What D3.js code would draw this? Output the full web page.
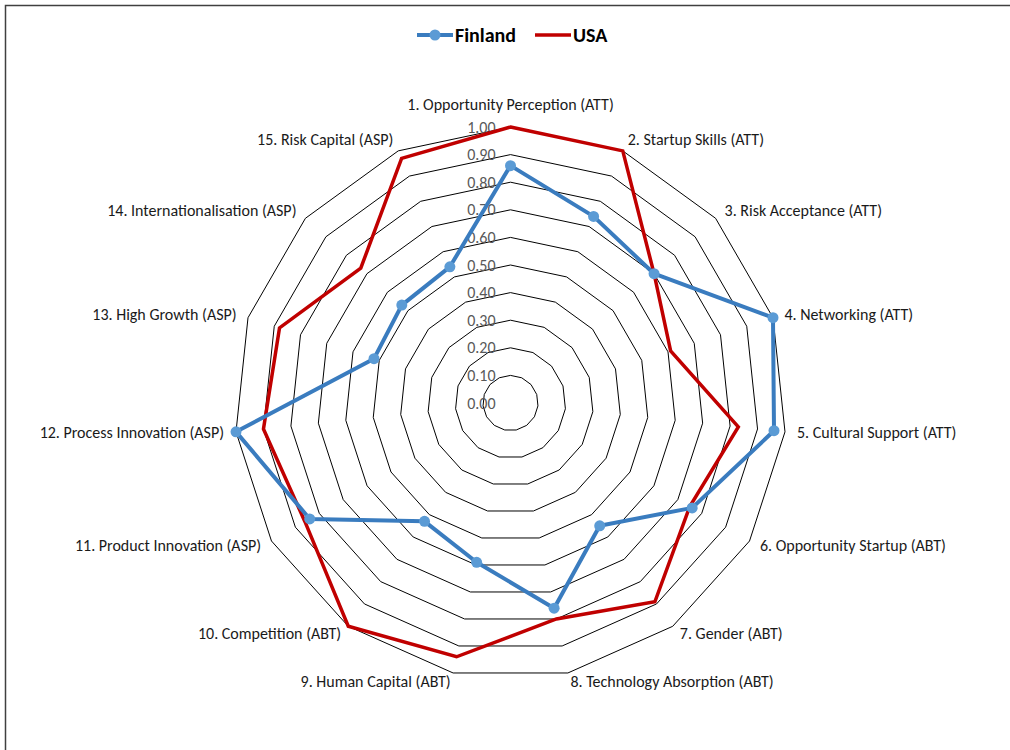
<!DOCTYPE html>
<html>
<head>
<meta charset="utf-8">
<script src="https://cdn.jsdelivr.net/npm/d3@7/dist/d3.min.js"></script>
<style>
  html, body { margin: 0; padding: 0; background: #fff; }
  svg { display: block; }
  text { font-family: Carlito, Calibri, Lato, "Open Sans", sans-serif; }
</style>
</head>
<body>
<svg id="chart" width="1010" height="750"></svg>
<script>
// Entrepreneurship index pillars, Finland vs USA (normalised 0–1)
const categories = [
  "1. Opportunity Perception (ATT)",
  "2. Startup Skills (ATT)",
  "3. Risk Acceptance (ATT)",
  "4. Networking (ATT)",
  "5. Cultural Support (ATT)",
  "6. Opportunity Startup (ABT)",
  "7. Gender (ABT)",
  "8. Technology Absorption (ABT)",
  "9. Human Capital (ABT)",
  "10. Competition (ABT)",
  "11. Product Innovation (ASP)",
  "12. Process Innovation (ASP)",
  "13. High Growth (ASP)",
  "14. Internationalisation (ASP)",
  "15. Risk Capital (ASP)"
];
const finland = [0.86, 0.74, 0.70, 1.00, 0.96, 0.76, 0.55, 0.76, 0.59, 0.53, 0.84, 1.00, 0.52, 0.53, 0.54];
const usa     = [1.00, 1.00, 0.70, 0.61, 0.83, 0.75, 0.89, 0.80, 0.94, 1.00, 0.86, 0.90, 0.88, 0.73, 0.97];
const tickValues = [0, 0.1, 0.2, 0.3, 0.4, 0.5, 0.6, 0.7, 0.8, 0.9, 1.0];
const seriesNames = ["Finland", "USA"];

const svg = d3.select("#chart");
const cx = 510.5, cy = 403, R = 276;
const n = categories.length;

const r = d3.scaleLinear().domain([0, 1]).range([0, R]);
const angle = d3.scaleLinear().domain([0, n]).range([0, 2 * Math.PI]);
const fmt = d3.format(".2f");

// outer frame (left and top edges)
svg.append("path")
  .attr("d", "M5.5,750 L5.5,5.5 L1010,5.5")
  .attr("fill", "none").attr("stroke", "#404040").attr("stroke-width", 1.5);

const g = svg.append("g").attr("transform", `translate(${cx},${cy})`);

const radial = d3.lineRadial()
  .angle((d, i) => angle(i))
  .radius(d => r(d))
  .curve(d3.curveLinearClosed);

// grid rings
g.append("g").selectAll("path")
  .data(tickValues.filter(t => t > 0))
  .join("path")
  .attr("d", t => radial(categories.map(() => t)))
  .attr("fill", "none")
  .attr("stroke", "#000")
  .attr("stroke-width", 1);

// value labels along the vertical axis
g.append("g").selectAll("text")
  .data(tickValues)
  .join("text")
  .attr("x", -15)
  .attr("y", t => -r(t))
  .attr("text-anchor", "end")
  .attr("dominant-baseline", "central")
  .attr("fill", "#595959")
  .attr("font-size", 16)
  .text(fmt);

// category labels
g.append("g").selectAll("text")
  .data(categories)
  .join("text")
  .each(function (d, i) {
    const a = angle(i);
    const s = Math.sin(a), c = -Math.cos(a);
    const px = (R + 12) * s, py = (R + 12) * c;
    const anchor = s > 0.1 ? "start" : (s < -0.1 ? "end" : "middle");
    const yOff = c < -0.97 ? -11 : (c > 0 ? -3.2 * c : 0);
    d3.select(this)
      .attr("x", px)
      .attr("y", py + yOff)
      .attr("text-anchor", anchor)
      .attr("dominant-baseline", "central");
  })
  .attr("fill", "#1a1a1a")
  .attr("font-size", 16)
  .text(d => d);

// series
const usaColor = "#c00000", finLine = "#3a7cbf", finMarker = "#5b9bd5";

g.append("path")
  .attr("d", radial(usa))
  .attr("fill", "none")
  .attr("stroke", usaColor)
  .attr("stroke-width", 3.5)
  .attr("stroke-linejoin", "miter");

g.append("path")
  .attr("d", radial(finland))
  .attr("fill", "none")
  .attr("stroke", finLine)
  .attr("stroke-width", 4)
  .attr("stroke-linejoin", "round");

g.append("g").selectAll("circle")
  .data(finland)
  .join("circle")
  .attr("cx", (d, i) => r(d) * Math.sin(angle(i)))
  .attr("cy", (d, i) => -r(d) * Math.cos(angle(i)))
  .attr("r", 5.5)
  .attr("fill", finMarker);

// legend
const legend = svg.append("g").attr("transform", "translate(0,35)");
const items = [
  { name: seriesNames[0], x: 417, color: finLine, marker: true },
  { name: seriesNames[1], x: 535, color: usaColor, marker: false }
];
items.forEach(it => {
  legend.append("line")
    .attr("x1", it.x).attr("x2", it.x + 36)
    .attr("y1", 0).attr("y2", 0)
    .attr("stroke", it.color)
    .attr("stroke-width", it.marker ? 4 : 3.5);
  if (it.marker) {
    legend.append("circle")
      .attr("cx", it.x + 18).attr("cy", 0).attr("r", 5.5)
      .attr("fill", finMarker);
  }
  legend.append("text")
    .attr("x", it.x + 38).attr("y", 0)
    .attr("dominant-baseline", "central")
    .attr("font-size", 20)
    .attr("font-weight", "bold")
    .attr("fill", "#000")
    .text(it.name);
});
</script>
</body>
</html>
